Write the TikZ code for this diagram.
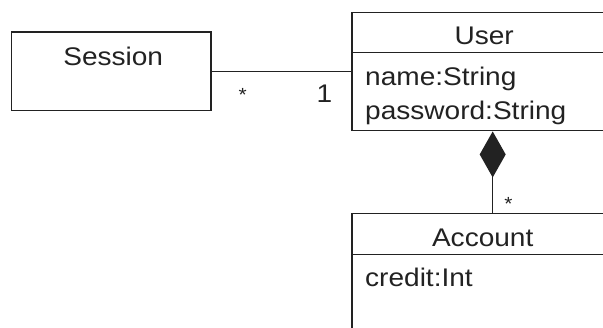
\documentclass[tikz,border=0pt]{standalone}
\usepackage{fontspec}
\setmainfont[FakeStretch=1.1]{Liberation Sans}
\usetikzlibrary{arrows.meta}
\definecolor{ink}{HTML}{222222}
\begin{document}
\begin{tikzpicture}[x=1pt,y=-1pt,
  box/.style={draw=ink, line width=1.5pt, inner sep=0pt},
  lbl/.style={inner sep=0pt, text=ink, font=\fontsize{25.5}{30}\selectfont},
  mult/.style={inner sep=0pt, text=ink, font=\fontsize{19}{22}\selectfont},
  conn/.style={draw=ink, line width=1.5pt}]
\useasboundingbox (0,0) rectangle (603,328);
\clip (0,0) rectangle (603,328);
% boxes
\node[box, minimum width=199.5pt, minimum height=78.5pt] (session) at (111.2,71.5) {};
\node[box, minimum width=264pt, minimum height=118.4pt] (user) at (484.2,71.5) {};
\node[box, minimum width=264pt, minimum height=127pt] (account) at (484.2,276.8) {};
% compartment separators
\coordinate (usep) at (352.2,52.3);
\draw[conn] (usep) -- (usep -| user.east);
\coordinate (asep) at (352.2,254.3);
\draw[conn] (asep) -- (asep -| account.east);
% texts
\node[lbl, anchor=base] (sesstitle) at (113.2,65.7) {Session};
\node[lbl, anchor=base] (usertitle) at (484.2,45) {User};
\node[lbl, anchor=base west] (uname) at (365,86) {name:String};
\node[lbl, anchor=base west] (upass) at (365,119.3) {password:String};
\node[lbl, anchor=base] (acctitle) at (482.7,246.7) {Account};
\node[lbl, anchor=base west] (acredit) at (365,286.7) {credit:Int};
% association
\draw[conn] (session.east) -- (session.east -| user.west);
\node[mult] (star1) at (242.7,94.5) {*};
\node[lbl, anchor=base] (one) at (324.3,102.7) {1};
% composition
\path (user.south) ++(8.5,0) coordinate (cu);
\coordinate (ca) at (cu |- account.north);
\draw[conn, -{Diamond[length=46pt,width=26pt,fill=ink]}] (ca) -- (cu);
\node[mult] (star2) at (508.5,203.5) {*};
\end{tikzpicture}
\end{document}
